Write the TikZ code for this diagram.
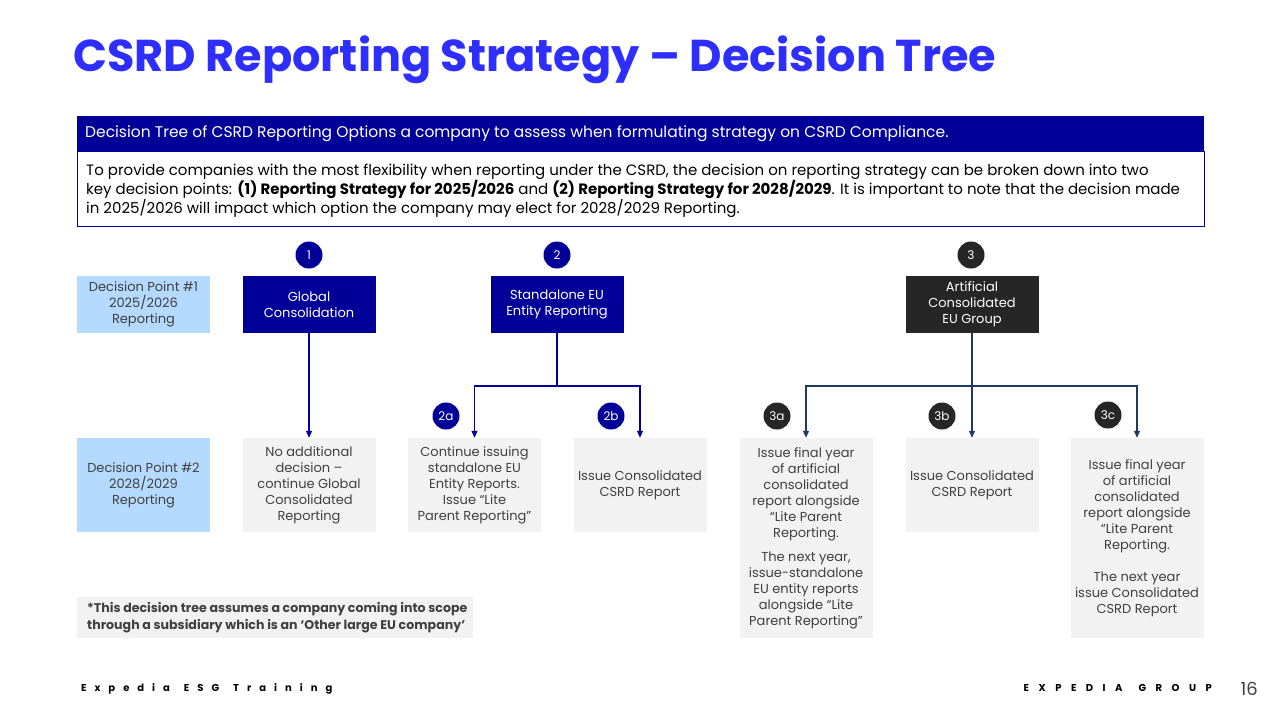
\documentclass[tikz,border=0pt]{standalone}
\usepackage{fontspec}
\setmainfont{Poppins}
\usetikzlibrary{arrows.meta}
\definecolor{titleblue}{RGB}{46,46,255}
\definecolor{navy}{RGB}{0,0,153}
\definecolor{darkbox}{RGB}{38,38,38}
\definecolor{linkdark}{RGB}{31,56,100}
\definecolor{lightblue}{RGB}{180,218,255}
\definecolor{lightgray}{RGB}{242,242,242}
\definecolor{bodytext}{RGB}{64,64,64}
\begin{document}
\begin{tikzpicture}[x=1pt,y=-1pt,
  boxbase/.style={minimum width=133pt, inner sep=2pt, align=center, font=\fontsize{13}{16}\selectfont},
  navybox/.style={boxbase, fill=navy, text=white, minimum height=57pt},
  darkbx/.style={boxbase, fill=darkbox, text=white, minimum height=57pt},
  dpbox/.style={boxbase, fill=lightblue, text=bodytext},
  graybox/.style={boxbase, fill=lightgray, text=bodytext},
  badge/.style={circle, minimum size=27pt, inner sep=0pt, text=white, font=\fontsize{12}{14}\selectfont},
  navyarrow/.style={draw=navy, line width=1.1pt, -{Triangle[width=6pt,length=7pt]}},
  darkarrow/.style={draw=linkdark, line width=1.1pt, -{Triangle[width=6pt,length=7pt]}},
  navyline/.style={draw=navy, line width=1.1pt},
  darkline/.style={draw=linkdark, line width=1.1pt}
]
\path[use as bounding box, fill=white] (0,0) rectangle (1280,720);

% title
\node[anchor=base west, inner sep=0pt, text=titleblue, font=\fontsize{44.6}{52}\selectfont\bfseries] (title) at (73,71) {CSRD Reporting Strategy – Decision Tree};

% header
\node[anchor=north west, fill=navy, minimum width=1127pt, minimum height=35pt, inner sep=0pt] (hbar) at (77,116) {};
\node[anchor=west, text=white, inner sep=0pt, font=\fontsize{15.5}{19}\selectfont] (htext) at (85,134) {Decision Tree of CSRD Reporting Options a company to assess when formulating strategy on CSRD Compliance.};
\node[anchor=north west, draw=navy, line width=0.8pt, minimum width=1127pt, minimum height=75pt, inner sep=0pt] (hbody) at (77,151) {};
\node[anchor=west, align=left, inner sep=0pt, text=black, font=\fontsize{15}{19}\selectfont] (btext) at (86,191) {To provide companies with the most flexibility when reporting under the CSRD, the decision on reporting strategy can be broken down into two\\key decision points: \textbf{(1) Reporting Strategy for 2025/2026} and \textbf{(2) Reporting Strategy for 2028/2029}. It is important to note that the decision made\\in 2025/2026 will impact which option the company may elect for 2028/2029 Reporting.};

% badges row 1
\node[badge, fill=navy] (c1) at (309,255) {1};
\node[badge, fill=navy] (c2) at (557,255) {2};
\node[badge, fill=darkbox] (c3) at (971,255) {3};

% decision point 1 row
\node[dpbox, minimum height=57pt] (dp1) at (143.5,304.5) {Decision Point \#1\\2025/2026\\Reporting};
\node[navybox] (gc) at (309,304.5) {Global\\Consolidation};
\node[navybox] (se) at (557,304.5) {Standalone EU\\Entity Reporting};
\node[darkbx] (ac) at (972,304.5) {Artificial\\Consolidated\\EU Group};

% decision point 2 row
\node[dpbox, minimum height=94pt] (dp2) at (143.5,485) {Decision Point \#2\\2028/2029\\Reporting};
\node[graybox, minimum height=94pt] (na) at (309,485) {No additional\\decision –\\continue Global\\Consolidated\\Reporting};
\node[graybox, minimum height=94pt] (ci) at (474.5,485) {Continue issuing\\standalone EU\\Entity Reports.\\Issue “Lite\\Parent Reporting”};
\node[graybox, minimum height=94pt] (icb) at (640,485) {Issue Consolidated\\CSRD Report};
\node[graybox, minimum height=200pt] (b3a) at (806,538) {Issue final year\\of artificial\\consolidated\\report alongside\\“Lite Parent\\Reporting.\\[8pt]The next year,\\issue-standalone\\EU entity reports\\alongside “Lite\\Parent Reporting”};
\node[graybox, minimum height=94pt] (b3b) at (972,485) {Issue Consolidated\\CSRD Report};
\node[graybox, minimum height=200pt] (b3c) at (1137,538) {Issue final year\\of artificial\\consolidated\\report alongside\\“Lite Parent\\Reporting.\\[16pt]The next year\\issue Consolidated\\CSRD Report};

% badges row 2
\node[badge, fill=navy] (c2a) at (446,416) {2a};
\node[badge, fill=navy] (c2b) at (611,416) {2b};
\node[badge, fill=darkbox] (c3a) at (777,416) {3a};
\node[badge, fill=darkbox] (c3b) at (942,416) {3b};
\node[badge, fill=darkbox] (c3c) at (1108,415) {3c};

% connectors
\draw[navyarrow] (gc.south) -- (na.north);
\coordinate (j2) at (557,386);
\draw[navyline] (se.south) -- (j2);
\draw[navyarrow] (j2) -| (ci.north);
\draw[navyarrow] (j2) -| (icb.north);
\coordinate (j3) at (972,386);
\draw[darkarrow] (ac.south) -- (b3b.north);
\draw[darkarrow] (j3) -| (b3a.north);
\draw[darkarrow] (j3) -| (b3c.north);

% footnote
\node[anchor=north west, fill=lightgray, minimum width=396pt, minimum height=41pt, inner sep=0pt] (fnbox) at (77,597) {};
\node[anchor=west, align=left, inner sep=0pt, text=bodytext, font=\fontsize{12.6}{17}\selectfont\bfseries] (fntext) at (87,617.5) {*This decision tree assumes a company coming into scope\\through a subsidiary which is an ‘Other large EU company’};

% footer
\node[anchor=base west, inner sep=0pt, font=\fontsize{10}{12}\selectfont\bfseries\addfontfeature{LetterSpace=80}] (fl) at (81,691) {Expedia\hspace{14pt}ESG\hspace{14pt}Training};
\node[anchor=base east, inner sep=0pt, font=\fontsize{10}{12}\selectfont\bfseries\addfontfeature{LetterSpace=95}] (fr) at (1212,691) {EXPEDIA\hspace{16pt}GROUP};
\node[anchor=base east, inner sep=0pt, text=bodytext, font=\fontsize{18}{20}\selectfont] (pg) at (1258,695) {16};
\end{tikzpicture}
\end{document}
